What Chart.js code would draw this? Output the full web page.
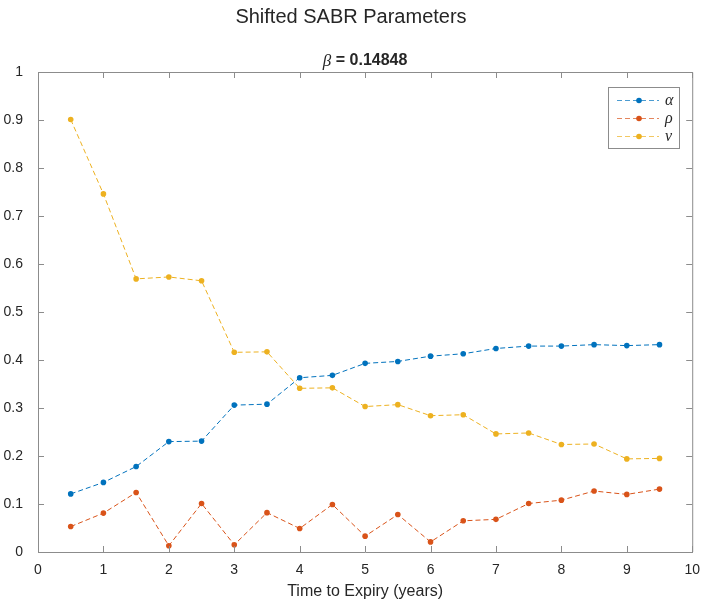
<!DOCTYPE html>
<html>
<head>
<meta charset="utf-8">
<script src="https://cdn.jsdelivr.net/npm/chart.js@4"></script>
<style>
  html, body { margin: 0; padding: 0; background: #fff; }
  #wrap { width: 702px; height: 604px; }
</style>
</head>
<body>
<div id="wrap"><canvas id="sabrChart" width="702" height="604"></canvas></div>
<script>
const expiries = [0.5, 1, 1.5, 2, 2.5, 3, 3.5, 4, 4.5, 5, 5.5, 6, 6.5, 7, 7.5, 8, 8.5, 9, 9.5];
const alphaValues = [0.121, 0.145, 0.178, 0.230, 0.231, 0.306, 0.308, 0.363, 0.368, 0.393, 0.397, 0.408, 0.413, 0.424, 0.429, 0.429, 0.432, 0.430, 0.432];
const rhoValues = [0.053, 0.081, 0.124, 0.013, 0.101, 0.015, 0.082, 0.049, 0.099, 0.033, 0.078, 0.021, 0.065, 0.068, 0.101, 0.108, 0.127, 0.120, 0.131];
const nuValues = [0.901, 0.746, 0.569, 0.573, 0.565, 0.416, 0.417, 0.341, 0.342, 0.303, 0.307, 0.284, 0.286, 0.246, 0.248, 0.224, 0.225, 0.194, 0.195];
const seriesNames = ['α', 'ρ', 'ν'];
const seriesColors = ['#0072BD', '#D95319', '#EDB120'];
const chartTitle = 'Shifted SABR Parameters';
const betaLabel = 'β';
const betaValue = ' = 0.14848';
const xTitle = 'Time to Expiry (years)';

const axisColor = '#8c8c8c';
const textColor = '#262626';

const toPoints = (values) => values.map((v, i) => ({ x: expiries[i], y: v }));

const makeSeries = (values, idx) => ({
    label: seriesNames[idx],
    data: toPoints(values),
    borderColor: seriesColors[idx],
    backgroundColor: seriesColors[idx],
    borderWidth: 1,
    borderDash: [5, 3],
    pointRadius: 2.8,
    pointBorderWidth: 0,
    pointBackgroundColor: seriesColors[idx],
    tension: 0,
    fill: false,
    order: 3 - idx,
});

// frame, inward ticks, titles and legend drawn in MATLAB style
const matlabDecor = {
    id: 'matlabDecor',
    afterDraw(chart) {
        const { ctx, chartArea: area, scales } = chart;
        const xs = scales.x;
        const ys = scales.y;
        ctx.save();
        ctx.strokeStyle = axisColor;
        ctx.lineWidth = 1;
        ctx.setLineDash([]);
        ctx.beginPath();
        ctx.moveTo(area.left, area.top + 0.5);
        ctx.lineTo(area.right + 0.5, area.top + 0.5);
        ctx.lineTo(area.right + 0.5, area.bottom);
        ctx.stroke();

        const tick = 6;
        ctx.beginPath();
        xs.ticks.forEach((t) => {
            const px = Math.round(xs.getPixelForValue(t.value)) + 0.5;
            ctx.moveTo(px, area.bottom);
            ctx.lineTo(px, area.bottom - tick);
            ctx.moveTo(px, area.top);
            ctx.lineTo(px, area.top + tick);
        });
        ys.ticks.forEach((t) => {
            const py = Math.round(ys.getPixelForValue(t.value)) + 0.5;
            ctx.moveTo(area.left, py);
            ctx.lineTo(area.left + tick, py);
            ctx.moveTo(area.right, py);
            ctx.lineTo(area.right - tick, py);
        });
        ctx.stroke();

        // main title
        ctx.fillStyle = textColor;
        ctx.textBaseline = 'middle';
        ctx.textAlign = 'center';
        ctx.font = '20px "Liberation Sans", Arial, sans-serif';
        ctx.fillText(chartTitle, chart.width / 2, 17);

        // subtitle: italic beta + bold value
        const betaFont = 'italic 17px "Liberation Serif", "Times New Roman", serif';
        const valFont = 'bold 16px "Liberation Sans", Arial, sans-serif';
        ctx.font = betaFont;
        const bw = ctx.measureText(betaLabel).width;
        ctx.font = valFont;
        const vw = ctx.measureText(betaValue).width;
        const cx = (area.left + area.right) / 2;
        let sx = cx - (bw + vw) / 2;
        ctx.textAlign = 'left';
        ctx.font = betaFont;
        ctx.fillText(betaLabel, sx, 62);
        ctx.font = valFont;
        ctx.fillText(betaValue, sx + bw, 61);

        // legend
        const box = { left: 608.5, top: 87.5, width: 71, height: 61 };
        ctx.fillStyle = '#ffffff';
        ctx.fillRect(box.left, box.top, box.width, box.height);
        ctx.strokeStyle = axisColor;
        ctx.strokeRect(box.left, box.top, box.width, box.height);
        chart.data.datasets.forEach((ds, i) => {
            const y = 100.5 + i * 18;
            ctx.strokeStyle = ds.borderColor;
            ctx.globalAlpha = 0.7;
            ctx.lineWidth = 1;
            ctx.setLineDash(ds.borderDash);
            ctx.beginPath();
            ctx.moveTo(617, y);
            ctx.lineTo(659, y);
            ctx.stroke();
            ctx.globalAlpha = 1;
            ctx.setLineDash([]);
            ctx.fillStyle = ds.borderColor;
            ctx.beginPath();
            ctx.arc(639, y, 2.8, 0, Math.PI * 2);
            ctx.fill();
            ctx.fillStyle = textColor;
            ctx.font = 'italic 16px "Liberation Serif", "Times New Roman", serif';
            ctx.textAlign = 'left';
            ctx.fillText(ds.label, 665, y);
        });
        ctx.restore();
    },
};

const ctx = document.getElementById('sabrChart');
const sabrChart = new Chart(ctx, {
    type: 'line',
    data: {
        datasets: [
            makeSeries(alphaValues, 0),
            makeSeries(rhoValues, 1),
            makeSeries(nuValues, 2),
        ],
    },
    options: {
        responsive: false,
        animation: false,
        layout: {
            padding: { top: 72, right: 1, bottom: 0, left: 0 },
        },
        scales: {
            x: {
                type: 'linear',
                min: 0,
                max: 10,
                grid: { display: false },
                border: { color: axisColor, width: 1 },
                ticks: {
                    stepSize: 1,
                    padding: 2,
                    color: textColor,
                    font: { family: '"Liberation Sans", Arial, sans-serif', size: 14 },
                    maxRotation: 0,
                },
                title: {
                    display: true,
                    text: xTitle,
                    color: textColor,
                    font: { family: '"Liberation Sans", Arial, sans-serif', size: 16 },
                    padding: { top: 0, bottom: 3 },
                },
                afterFit: (scale) => {
                    scale.height = 52;
                },
            },
            y: {
                type: 'linear',
                min: 0,
                max: 1,
                grid: { display: false },
                border: { color: axisColor, width: 1 },
                ticks: {
                    stepSize: 0.1,
                    padding: 7,
                    color: textColor,
                    font: { family: '"Liberation Sans", Arial, sans-serif', size: 14 },
                    callback: (value) => String(Number(Number(value).toFixed(1))),
                },
                afterFit: (scale) => {
                    scale.width = 38;
                },
            },
        },
        plugins: {
            legend: { display: false },
            title: { display: false },
            tooltip: { enabled: false },
        },
    },
    plugins: [matlabDecor],
});
</script>
</body>
</html>
